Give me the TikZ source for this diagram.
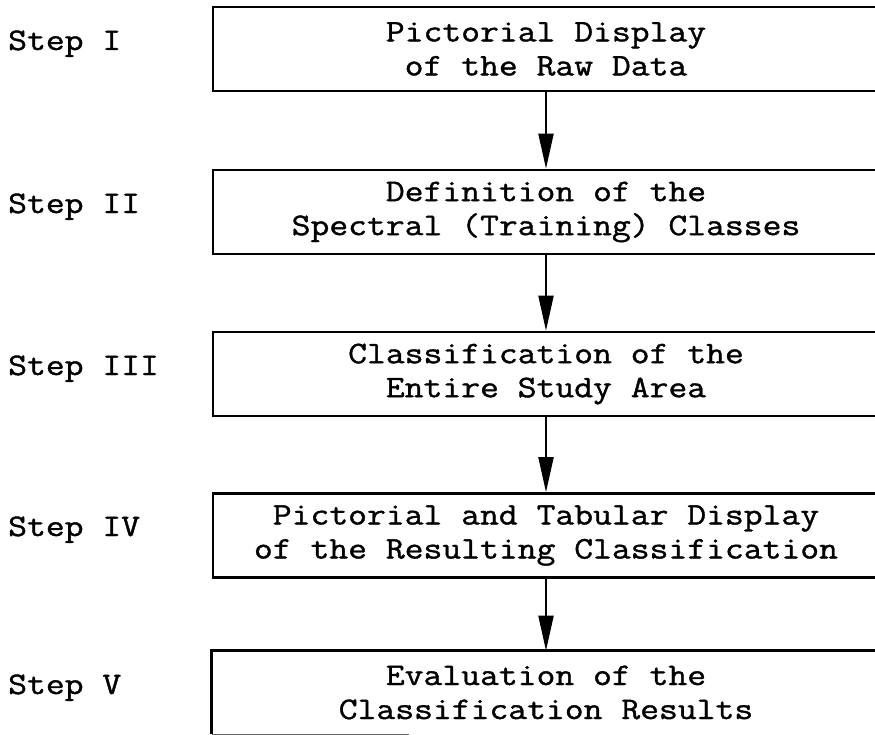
\documentclass[tikz,border=0pt]{standalone}
\usepackage{fontspec}
\newfontfamily\courfont[FakeStretch=1.165, FakeBold=1.2]{Latin Modern Mono}
\usetikzlibrary{arrows.meta}
\begin{document}
\begin{tikzpicture}[x=1bp,y=-1bp,
  txt/.style={font=\courfont\fontsize{31.4bp}{34bp}\selectfont},
  stepbox/.style={draw, line width=2.6bp, minimum width=666bp, minimum height=84bp,
    inner sep=0pt, align=center, txt},
  steplabel/.style={anchor=base west, inner sep=0pt, txt},
  flow/.style={line width=2bp, -{Triangle[length=35bp,width=15bp]}}]
\useasboundingbox (0,0) rectangle (875,735);
\clip (0,0) rectangle (875,735);
\node[stepbox] (b1) at (546,49) {Pictorial Display\\of the Raw Data};
\node[stepbox] (b2) at (546,212) {Definition of the\\Spectral (Training) Classes};
\node[stepbox] (b3) at (546,374) {Classification of the\\Entire Study Area};
\node[stepbox] (b4) at (546,535.5) {Pictorial and Tabular Display\\of the Resulting Classification};
\node[stepbox, draw=none, minimum height=81bp] (b5) at (546,692.5) {Evaluation of the\\Classification Results};
\draw[line width=2.6bp] (b5.south west) -- (b5.north west) -- (b5.north east);
\draw[line width=1.6bp, black!60] (b5.south west) -- ++(197,0) coordinate (b5cut);
\node[steplabel] (s1) at (8,50) {Step I};
\node[steplabel] (s2) at (8,213) {Step II};
\node[steplabel] (s3) at (8,375) {Step III};
\node[steplabel] (s4) at (8,536) {Step IV};
\node[steplabel] (s5) at (8,694) {Step V};
\draw[flow] (b1.south) -- (b2.north);
\draw[flow] (b2.south) -- (b3.north);
\draw[flow] (b3.south) -- (b4.north);
\draw[flow] (b4.south) -- (b5.north);
\end{tikzpicture}
\end{document}
